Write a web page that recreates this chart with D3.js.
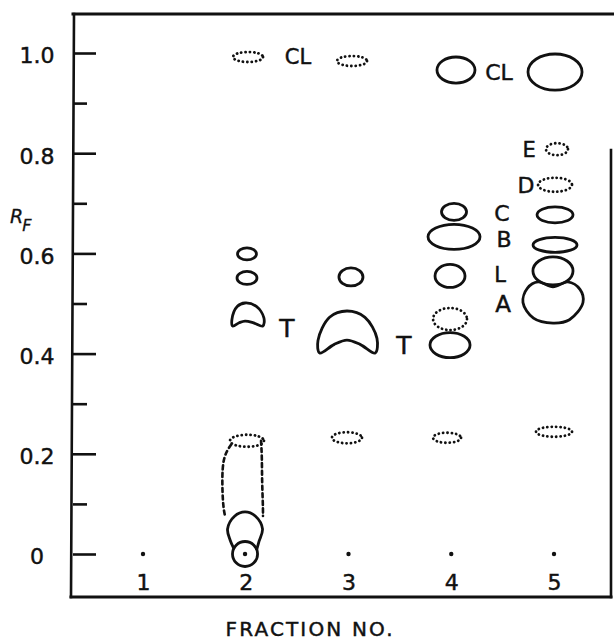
<!DOCTYPE html>
<html><head><meta charset="utf-8">
<script src="https://cdn.jsdelivr.net/npm/d3@7"></script>
<style>
body{margin:0;background:#fff}
svg{display:block}
text{font-family:"DejaVu Sans",sans-serif;fill:#111;stroke:#111;stroke-width:0.45px}
</style>
</head><body>
<svg id="c" width="614" height="641"></svg>
<script>
// ---------- data ----------
const fractions = [1, 2, 3, 4, 5];
const fractionLabels = ["1", "2", "3", "4", "5"];
const majorTicks = [0, 0.2, 0.4, 0.6, 0.8, 1.0];
const majorLabels = ["0", "0.2", "0.4", "0.6", "0.8", "1.0"];
const minorTicks = [0.1, 0.3, 0.5, 0.7, 0.9];
const originDots = [1, 1.993, 3, 4, 5];           // application points (Rf = 0)

// elliptical spots: fraction position, Rf centre, half-width (fraction units), half-height (Rf units), outline
const ellipseSpots = [
  {f: 2.022, rf: 0.992, w: 0.146, h: 0.010, line: "dotted"},   // CL, frac 2
  {f: 3.034, rf: 0.984, w: 0.146, h: 0.010, line: "dotted"},   // CL, frac 3
  {f: 4.046, rf: 0.966, w: 0.185, h: 0.026, line: "solid"},    // CL, frac 4
  {f: 5.010, rf: 0.962, w: 0.263, h: 0.036, line: "solid"},    // CL, frac 5
  {f: 5.029, rf: 0.808, w: 0.107, h: 0.012, line: "dotted"},   // E
  {f: 5.010, rf: 0.737, w: 0.165, h: 0.014, line: "dotted"},   // D
  {f: 5.010, rf: 0.677, w: 0.175, h: 0.016, line: "solid"},    // C, frac 5
  {f: 4.027, rf: 0.683, w: 0.122, h: 0.017, line: "solid"},    // C, frac 4
  {f: 4.027, rf: 0.633, w: 0.253, h: 0.025, line: "solid"},    // B, frac 4
  {f: 5.010, rf: 0.617, w: 0.214, h: 0.015, line: "solid"},    // B, frac 5
  {f: 3.988, rf: 0.555, w: 0.146, h: 0.023, line: "solid"},    // L, frac 4
  {f: 4.990, rf: 0.565, w: 0.195, h: 0.028, line: "solid"},    // L, frac 5
  {f: 3.988, rf: 0.469, w: 0.165, h: 0.022, line: "dotted"},   // frac 4
  {f: 3.988, rf: 0.417, w: 0.195, h: 0.025, line: "solid"},    // frac 4
  {f: 3.024, rf: 0.553, w: 0.117, h: 0.018, line: "solid"},    // frac 3
  {f: 2.012, rf: 0.599, w: 0.092, h: 0.012, line: "solid"},    // frac 2
  {f: 2.012, rf: 0.551, w: 0.097, h: 0.013, line: "solid"},    // frac 2
  {f: 2.985, rf: 0.232, w: 0.146, h: 0.011, line: "dotted"},   // frac 3
  {f: 3.959, rf: 0.232, w: 0.136, h: 0.010, line: "dotted"},   // frac 4
  {f: 5.000, rf: 0.244, w: 0.175, h: 0.010, line: "dotted"},   // frac 5
  {f: 2.012, rf: 0.226, w: 0.165, h: 0.012, line: "dotted"},   // top cap of streak, frac 2
  {f: 1.993, rf: 0.000, w: 0.122, h: 0.025, line: "solid"}     // origin circle, frac 2
];

// T-shaped (tent) spots: left / right / peak in fraction units; top, base, notch in Rf
const tentSpots = [
  {left: 1.866, right: 2.177, peak: 1.993, top: 0.501, base: 0.455, notch: 0.465},
  {left: 2.703, right: 3.277, peak: 2.985, top: 0.485, base: 0.401, notch: 0.427}
];

// kidney-shaped spot A, fraction 5
const kidneySpots = [
  {left: 4.698, right: 5.282, centre: 4.990, top: 0.543, dent: 0.533, bottom: 0.461}
];

// fraction 2: solid blob above origin and dashed streak
const blobSpots = [{f: 1.993, halfW: 0.170, top: 0.084, widest: 0.050, circleRf: 0.0, circleR: 0.025}];
const streaks = [{f: 1.993, left: 1.769, right: 2.158, cap: 0.226, bottom: 0.076}];

// spot labels
const spotLabels = [
  {t: "CL", f: 2.508, rf: 0.994, size: 21},
  {t: "CL", f: 4.465, rf: 0.962, size: 22},
  {t: "E",  f: 4.757, rf: 0.808, size: 21},
  {t: "D",  f: 4.728, rf: 0.737, size: 22},
  {t: "C",  f: 4.494, rf: 0.681, size: 22},
  {t: "B",  f: 4.514, rf: 0.629, size: 22},
  {t: "L",  f: 4.475, rf: 0.559, size: 21},
  {t: "A",  f: 4.504, rf: 0.499, size: 23},
  {t: "T",  f: 2.401, rf: 0.451, size: 25},
  {t: "T",  f: 3.540, rf: 0.417, size: 25}
];

// ---------- layout ----------
const svg = d3.select("#c");
const frame = {left: 73, top: 14, right: 611, bottom: 597};
const x = d3.scaleLinear().domain([1, 5]).range([143, 554]);
const y = d3.scaleLinear().domain([0, 1]).range([554, 53]);
const ink = "#111";
const SW = 2.8;

// frame
const fr = svg.append("g").attr("stroke", ink).attr("fill", "none").attr("stroke-linecap", "square");
fr.append("line").attr("x1", frame.left).attr("x2", 614).attr("y1", frame.top).attr("y2", frame.top).attr("stroke-width", 3);
fr.append("line").attr("x1", frame.left + 1).attr("x2", frame.left - 2).attr("y1", frame.top).attr("y2", frame.bottom).attr("stroke-width", 2.6);
fr.append("line").attr("x1", frame.left - 2).attr("x2", frame.right).attr("y1", frame.bottom).attr("y2", frame.bottom).attr("stroke-width", 3);
fr.append("line").attr("x1", frame.right).attr("x2", frame.right).attr("y1", 150).attr("y2", frame.bottom).attr("stroke-width", 2.6);

// y axis (ticks pointing inward)
const yMajor = svg.append("g").attr("transform", `translate(${frame.left},0)`)
  .call(d3.axisLeft(y).tickValues(majorTicks).tickSize(-23).tickPadding(0)
        .tickFormat((d, i) => majorLabels[i]));
yMajor.select(".domain").remove();
yMajor.selectAll(".tick line").attr("stroke", ink).attr("stroke-width", 2.6);
yMajor.selectAll(".tick text").attr("x", -36).attr("dy", "0.45em").attr("text-anchor", "middle")
  .style("font-size", "22px").attr("fill", ink);

const yMinor = svg.append("g").attr("transform", `translate(${frame.left},0)`)
  .call(d3.axisLeft(y).tickValues(minorTicks).tickSize(-14).tickFormat(""));
yMinor.select(".domain").remove();
yMinor.selectAll(".tick line").attr("stroke", ink).attr("stroke-width", 2.6);

// R_F label
const rf = svg.append("text").attr("x", 10).attr("y", 223).style("font-size", "19px").style("font-style", "italic")
  .style("stroke-width", "0.3px");
rf.append("tspan").text("R");
rf.append("tspan").attr("dy", 8).attr("dx", -1).style("font-size", "16px").text("F");

// x axis labels
const xAx = svg.append("g").attr("transform", `translate(0,${frame.bottom - 27})`)
  .call(d3.axisBottom(x).tickValues(fractions).tickSize(0).tickPadding(0)
        .tickFormat((d, i) => fractionLabels[i]));
xAx.select(".domain").remove();
xAx.selectAll(".tick text").attr("dy", "0").attr("y", 20).style("font-size", "22px").attr("fill", ink);

svg.append("text").attr("x", 309).attr("y", 636).attr("text-anchor", "middle")
  .attr("textLength", 167).attr("lengthAdjust", "spacing")
  .style("font-size", "20px").text("FRACTION NO.");

// ---------- spots ----------
const dash = {solid: null, dotted: "0.1 4.2", dashed: "4 3.5"};
const spots = svg.append("g").attr("fill", "none").attr("stroke", ink).attr("stroke-linecap", "round").attr("stroke-linejoin", "round");

spots.selectAll("ellipse.spot").data(ellipseSpots).join("ellipse")
  .attr("class", "spot")
  .attr("cx", d => x(d.f)).attr("cy", d => y(d.rf))
  .attr("rx", d => x(d.f + d.w) - x(d.f))
  .attr("ry", d => y(d.rf - d.h) - y(d.rf))
  .attr("stroke-width", d => d.line === "dotted" ? 2.8 : SW)
  .attr("stroke-dasharray", d => dash[d.line]);

// tents
const closed = d3.line().curve(d3.curveCatmullRomClosed.alpha(0.5));
spots.selectAll("path.tent").data(tentSpots).join("path")
  .attr("class", "tent").attr("stroke-width", SW)
  .attr("d", d => {
    const xL = x(d.left), xR = x(d.right), xP = x(d.peak);
    const yT = y(d.top), yB = y(d.base), yN = y(d.notch);
    const hh = yB - yT;
    return closed([
      [xL + (xP - xL) * 0.06, yB],
      [xL, yB - hh * 0.3],
      [xL + (xP - xL) * 0.4, yT + hh * 0.15],
      [xP, yT],
      [xP + (xR - xP) * 0.6, yT + hh * 0.15],
      [xR, yB - hh * 0.35],
      [xR - (xR - xP) * 0.06, yB],
      [xP + (xR - xP) * 0.45, yN + (yB - yN) * 0.35],
      [xP, yN],
      [xP - (xP - xL) * 0.45, yN + (yB - yN) * 0.35]
    ]);
  });

// kidney
spots.selectAll("path.kidney").data(kidneySpots).join("path")
  .attr("class", "kidney").attr("stroke-width", SW)
  .attr("d", d => {
    const xL = x(d.left), xR = x(d.right), xC = x(d.centre);
    const yT = y(d.top), yD = y(d.dent), yB = y(d.bottom);
    const hw = (xR - xL) / 2, hh = yB - yT;
    return closed([
      [xC, yD],
      [xC + hw * 0.5, yT],
      [xR - hw * 0.1, yT + hh * 0.18],
      [xR, yT + hh * 0.5],
      [xC + hw * 0.55, yB - hh * 0.08],
      [xC, yB],
      [xC - hw * 0.65, yB - hh * 0.12],
      [xL, yT + hh * 0.5],
      [xL + hw * 0.15, yT + hh * 0.15],
      [xC - hw * 0.5, yT]
    ]);
  });

// fraction 2 blob above origin circle
const open = d3.line().curve(d3.curveCatmullRom.alpha(0.5));
spots.selectAll("path.blob").data(blobSpots).join("path")
  .attr("class", "blob").attr("stroke-width", SW)
  .attr("d", d => {
    const xC = x(d.f), hw = x(d.f + d.halfW) - xC;
    const yT = y(d.top), yW = y(d.widest), yc = y(d.circleRf);
    const r = y(d.circleRf - d.circleR) - yc;
    return open([
      [xC - r * 0.9, yc - r * 0.45],
      [xC - hw * 0.85, yW + (yc - yW) * 0.45],
      [xC - hw, yW],
      [xC - hw * 0.6, yT + (yW - yT) * 0.25],
      [xC, yT],
      [xC + hw * 0.6, yT + (yW - yT) * 0.25],
      [xC + hw, yW],
      [xC + hw * 0.8, yW + (yc - yW) * 0.5],
      [xC + r * 0.95, yc - r * 0.4]
    ]);
  });

// dashed streak, fraction 2
const side = d3.line().curve(d3.curveBasis);
streaks.forEach(d => {
  const xL = x(d.left), xR = x(d.right), yc = y(d.cap), yb = y(d.bottom), xc = x(d.f);
  spots.append("path").attr("stroke-width", 2.6).attr("stroke-dasharray", dash.dashed)
    .attr("d", side([[xc - 14, yc + 4], [xL + 1, yc + 16], [xL, yc + 40], [xL + 1, yb - 10], [xL + 3, yb]]));
  spots.append("path").attr("stroke-width", 2.6).attr("stroke-dasharray", dash.dashed)
    .attr("d", side([[xc + 16, yc], [xR, yc + 16], [xR, yc + 40], [xR + 1, yb - 10], [xR + 1, yb]]));
});

// origin dots
svg.append("g").selectAll("circle").data(originDots).join("circle")
  .attr("cx", d => x(d)).attr("cy", y(0)).attr("r", 2.2).attr("fill", ink);

// labels
svg.append("g").selectAll("text").data(spotLabels).join("text")
  .attr("x", d => x(d.f)).attr("y", d => y(d.rf)).attr("dy", "0.36em")
  .attr("text-anchor", "middle")
  .style("font-size", d => d.size + "px")
  .text(d => d.t);
</script>
</body></html>
